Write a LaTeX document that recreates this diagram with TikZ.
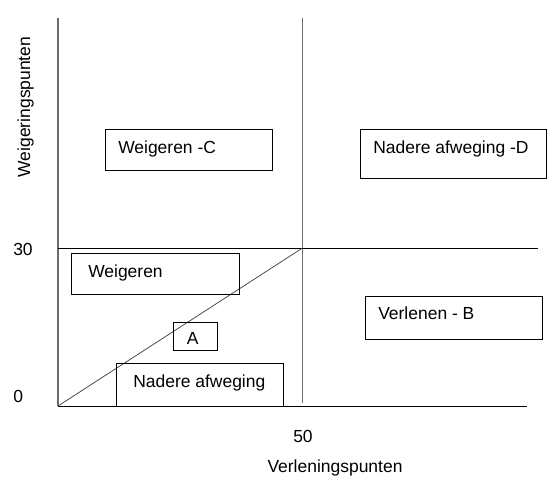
\documentclass[tikz,border=0pt]{standalone}
\usepackage{fontspec}
\setmainfont{Liberation Sans}
\begin{document}
\begin{tikzpicture}[x=0.75pt,y=-0.75pt,
  every node/.style={font=\fontsize{13.1}{15}\selectfont, inner sep=0pt},
  box/.style 2 args={draw=black, line width=0.75pt, anchor=north west, minimum width=#1*0.75pt, minimum height=#2*0.75pt},
  txt/.style={anchor=base west},
  axis/.style={draw=black, line width=0.75pt},
  gridv/.style={draw=gray!85!black, line width=1.2pt},
  diag/.style={draw=black!75, line width=0.55pt}]
\useasboundingbox (0,0) rectangle (560,487);
% axes and dividers
\coordinate (o) at (58,406);
\coordinate (ytop) at (58,18);
\coordinate (xend) at (527,406);
\coordinate (mtop) at (302.5,18);
\coordinate (mbot) at (302.5,403);
\coordinate (hl) at (58,248);
\coordinate (hr) at (538,248);
\coordinate (m) at (302.5,248);
\draw[gridv] (ytop) -- (o);
\draw[gridv] (mtop) -- (mbot);
\draw[axis] (o) -- (xend);
\draw[axis] (hl) -- (hr);
\draw[diag] (o) -- (m);
% boxes
\node[box={167}{41}] (c) at (105,129) {};
\node[txt] (ct) at (118,153) {Weigeren -C};
\node[box={186}{49}] (d) at (360,129) {};
\node[txt] (dt) at (373,153) {Nadere afweging -D};
\node[box={168}{41}] (w) at (71,253) {};
\node[txt] (wt) at (88,277) {Weigeren};
\node[box={44}{28}] (a) at (173,322) {};
\node[txt] (at) at (186.5,344) {A};
\node[box={167}{43}] (n) at (116,363) {};
\node[txt] (nt) at (133,387) {Nadere afweging};
\node[box={177}{43}] (b) at (365,296) {};
\node[txt] (bt) at (378,319) {Verlenen - B};
% axis labels
\node[txt] (l30) at (13,255) {30};
\node[txt] (l0) at (13,402) {0};
\node[txt] (l50) at (293,442) {50};
\node[anchor=base] (xl) at (335,472) {Verleningspunten};
\node[anchor=base, rotate=90] (yl) at (30,107) {Weigeringspunten};
\end{tikzpicture}
\end{document}
